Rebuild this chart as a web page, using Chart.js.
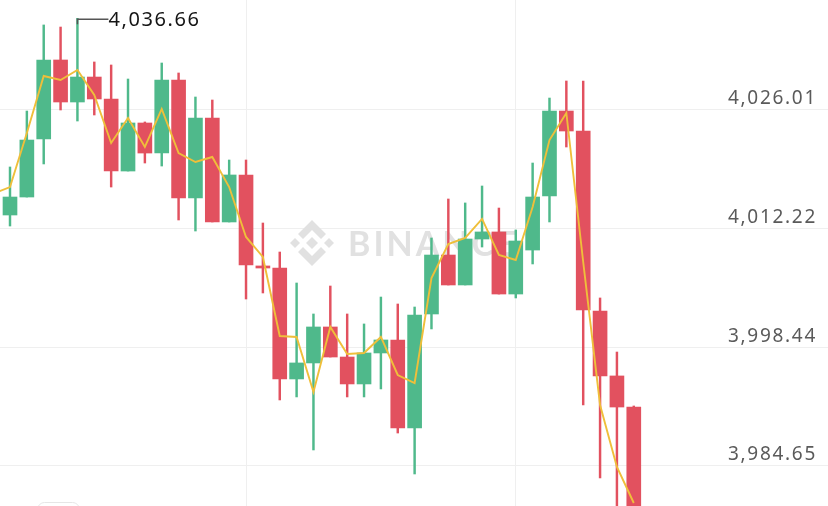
<!DOCTYPE html>
<html>
<head>
<meta charset="utf-8">
<script src="https://cdn.jsdelivr.net/npm/chart.js@4"></script>
<style>
  html, body { margin: 0; padding: 0; background: #fff; }
  #wrap { width: 828px; height: 506px; position: relative; }
</style>
</head>
<body>
<div id="wrap"><canvas id="kline"></canvas></div>
<script>
// candle data
const opens  = [4013.81, 4015.90, 4022.64, 4031.82, 4026.94, 4029.84, 4027.29, 4018.92, 4024.50, 4021.01,
                4029.50, 4015.79, 4025.08, 4013.00, 4018.46, 4007.89, 4007.65, 3994.76, 3996.62, 4000.80,
                3997.31, 3994.18, 3997.78, 3999.29, 3989.06, 4002.31, 4009.16, 4005.68, 4011.02, 4011.84,
                4004.63, 4009.74, 4016.02, 4025.89, 4023.57, 4002.66, 3995.11, 3991.50];
const highs  = [4019.39, 4025.89, 4035.89, 4035.65, 4036.66, 4031.59, 4031.24, 4029.61, 4024.62, 4031.47,
                4030.31, 4027.52, 4027.17, 4020.20, 4020.20, 4012.88, 4009.51, 4005.91, 4002.31, 4005.56,
                4002.31, 4001.15, 4004.28, 4003.47, 4003.12, 4011.14, 4015.67, 4015.21, 4017.18, 4014.62,
                4012.07, 4019.85, 4027.40, 4029.38, 4029.38, 4004.17, 3997.89, 3991.62];
const lows   = [4012.53, 4015.90, 4019.74, 4026.01, 4024.73, 4025.43, 4017.06, 4018.92, 4019.85, 4019.50,
                4013.23, 4011.95, 4013.00, 4013.00, 4004.05, 4004.75, 3992.32, 3992.67, 3986.51, 3997.31,
                3992.67, 3992.67, 3993.60, 3988.48, 3983.72, 4000.57, 4005.68, 4005.68, 4010.09, 4004.63,
                4004.17, 4008.12, 4013.00, 4021.71, 3991.74, 3983.26, 3978.38, 3976.05];
const closes = [4015.90, 4022.52, 4031.82, 4026.94, 4029.84, 4027.29, 4018.92, 4024.50, 4021.01, 4029.50,
                4015.79, 4025.08, 4013.00, 4018.46, 4008.00, 4007.65, 3994.76, 3996.62, 4000.80, 3997.31,
                3994.18, 3997.78, 3999.29, 3989.06, 4002.19, 4009.16, 4005.68, 4011.02, 4011.84, 4004.63,
                4010.79, 4015.90, 4025.89, 4023.57, 4002.77, 3995.11, 3991.50, 3977.21];
// moving average, first point belongs to the candle just off the left edge
const maValues = [4016.30, 4017.06, 4023.34, 4029.96, 4029.50, 4030.66, 4027.75, 4022.18, 4025.08, 4021.71,
                  4026.13, 4021.01, 4019.97, 4020.55, 4017.06, 4011.26, 4008.93, 3999.75, 3999.64, 3993.25,
                  4000.80, 3997.66, 3997.78, 3999.64, 3995.22, 3994.29, 4006.49, 4010.44, 4011.14, 4013.35,
                  4009.16, 4008.58, 4014.74, 4022.52, 4025.66, 4008.35, 3991.74, 3984.53, 3980.35];
const priceTicks = [3984.65, 3998.44, 4012.22, 4026.01];
const timeGrid = [14, 30];

const green = '#4fb98b';
const red = '#e2515f';
const candleColors = opens.map((o, i) => closes[i] >= o ? green : red);

const fmt = v => v.toLocaleString('en-US', { minimumFractionDigits: 2, maximumFractionDigits: 2 });

// faint watermark behind the candles
const watermark = {
  id: 'watermark',
  beforeDatasetsDraw(chart) {
    const ctx = chart.ctx;
    const cx = 312, cy = 243;
    ctx.save();
    ctx.fillStyle = '#e1e1e1';
    const diamond = (x, y, r) => {
      ctx.beginPath();
      ctx.moveTo(x, y - r); ctx.lineTo(x + r, y); ctx.lineTo(x, y + r); ctx.lineTo(x - r, y);
      ctx.closePath(); ctx.fill();
    };
    diamond(cx, cy, 6);
    diamond(cx - 17, cy, 5);
    diamond(cx + 17, cy, 5);
    [-1, 1].forEach(s => {
      ctx.beginPath();
      ctx.moveTo(cx, cy + s * 23);
      ctx.lineTo(cx + 14, cy + s * 9);
      ctx.lineTo(cx + 9, cy + s * 4);
      ctx.lineTo(cx, cy + s * 13);
      ctx.lineTo(cx - 9, cy + s * 4);
      ctx.lineTo(cx - 14, cy + s * 9);
      ctx.closePath(); ctx.fill();
    });
    ctx.font = 'bold 34px Lato';
    ctx.letterSpacing = '3px';
    ctx.textBaseline = 'alphabetic';
    ctx.fillText('BINANCE', 348, 256);
    ctx.restore();
  }
};

// price labels above the grid lines plus the max-high marker
const labels = {
  id: 'labels',
  afterDatasetsDraw(chart) {
    const ctx = chart.ctx;
    const y = chart.scales.y, x = chart.scales.x;
    ctx.save();
    ctx.letterSpacing = '1.7px';
    ctx.font = '19px "Noto Sans"';
    ctx.fillStyle = '#5a5a5a';
    ctx.textAlign = 'right';
    ctx.textBaseline = 'middle';
    y.ticks.forEach(t => {
      ctx.fillText(fmt(t.value), 817, y.getPixelForValue(t.value) - 11);
    });

    let top = 0;
    highs.forEach((h, i) => { if (h > highs[top]) top = i; });
    const px = x.getPixelForValue(top), py = y.getPixelForValue(highs[top]);
    ctx.strokeStyle = '#555';
    ctx.lineWidth = 1.5;
    ctx.beginPath();
    ctx.moveTo(px, py + 6); ctx.lineTo(px, py + 1); ctx.lineTo(px + 31, py + 1);
    ctx.stroke();
    ctx.font = '20px "Noto Sans"';
    ctx.letterSpacing = '1.6px';
    ctx.fillStyle = '#151515';
    ctx.textAlign = 'left';
    ctx.fillText(fmt(highs[top]), px + 31, py + 2);

    // little button outline peeking in at the bottom
    ctx.strokeStyle = '#e6e6e6';
    ctx.lineWidth = 1;
    ctx.beginPath();
    ctx.roundRect(37.5, 502.5, 42, 20, 7);
    ctx.stroke();
    ctx.restore();
  }
};

new Chart(document.getElementById('kline'), {
  type: 'bar',
  data: {
    datasets: [
      {
        type: 'line',
        data: maValues.map((v, i) => ({ x: i - 1, y: v })),
        borderColor: '#efbf3a',
        borderWidth: 1.9,
        pointRadius: 0,
        tension: 0,
        order: 0
      },
      {
        data: opens.map((o, i) => ({ x: i, y: [o, closes[i]] })),
        backgroundColor: candleColors,
        barThickness: 14,
        grouped: false,
        borderWidth: 0,
        order: 1
      },
      {
        data: lows.map((l, i) => ({ x: i, y: [l, highs[i]] })),
        backgroundColor: candleColors,
        barThickness: 1.8,
        grouped: false,
        borderWidth: 0,
        order: 2
      }
    ]
  },
  options: {
    responsive: true,
    maintainAspectRatio: false,
    animation: false,
    layout: { padding: 0 },
    plugins: { legend: { display: false }, tooltip: { enabled: false } },
    scales: {
      x: {
        type: 'linear',
        min: -0.593,
        max: 48.52,
        offset: false,
        grid: { color: '#efefef', drawTicks: false, offset: false },
        border: { display: false },
        ticks: { display: false },
        afterBuildTicks: s => { s.ticks = timeGrid.map(v => ({ value: v })); }
      },
      y: {
        position: 'right',
        min: 3980.0,
        max: 4038.79,
        grid: { color: '#efefef', drawTicks: false },
        border: { display: false },
        ticks: { display: false },
        afterBuildTicks: s => { s.ticks = priceTicks.map(v => ({ value: v })); }
      }
    }
  },
  plugins: [watermark, labels]
});
</script>
</body>
</html>
